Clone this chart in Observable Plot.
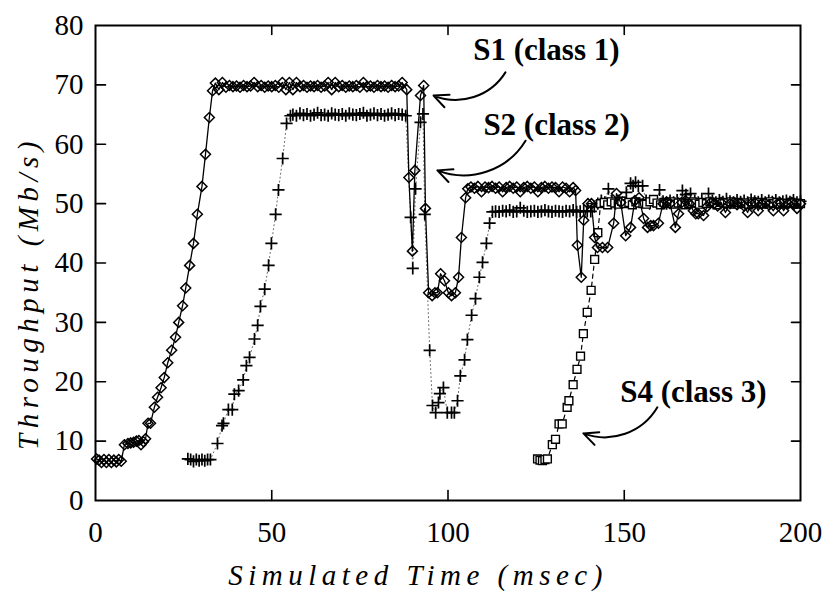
<!DOCTYPE html>
<html><head><meta charset="utf-8">
<script src="https://cdn.jsdelivr.net/npm/d3@7"></script>
<script src="https://cdn.jsdelivr.net/npm/@observablehq/plot@0.6"></script>
<style>body{margin:0;background:#fff} #chart svg{display:block}</style>
</head><body><div id="chart"></div>
<script>
// S1 (class 1) — diamonds, solid line
const s1Time = [
0.3,1.0,1.7,2.4,3.1,3.8,4.5,5.2,5.9,6.6,7.3,
8.2,9.2,10.0,10.8,11.6,12.3,12.9,13.6,14.2,14.9,15.6,
16.7,17.6,18.6,19.5,20.5,21.6,22.7,23.6,24.7,25.6,26.7,27.8,28.9,30.2,31.2,32.3,33.2,
34,35,36,37,38,39,40,41,42,43,44,45,46,47,48,49,50,51,52,53,54,55,56,57,58,59,60,61,62,63,64,65,66,67,68,69,70,71,72,73,74,75,76,77,78,79,80,81,82,83,84,85,86,87,
88.3,88.9,89.9,90.6,92.2,93.1,93.6,94.5,95.5,96.3,97.0,97.9,99.0,100.1,101.0,102.1,103.0,103.8,105.0,105.6,
106.5,107.5,108.5,109.5,110.5,111.5,112.5,113.5,114.5,115.5,116.5,117.5,118.5,119.5,120.5,121.5,122.5,123.5,124.5,125.5,126.5,127.5,128.5,129.5,130.5,131.5,132.5,133.5,134.5,135.5,
136.2,136.7,137.8,138.5,139.7,140.7,141.6,142.4,143.8,145.3,147.0,147.8,149.0,150.4,151.8,153.0,154.2,155.5,156.6,157.5,
158.3,159.7,161.0,162.0,163.0,164.5,165.4,166.3,167.4,168.5,169.6,170.3,171.0,172.5,173.5,174.5,175.5,176.5,177.5,178.7,
180.0,181.0,182.0,183.0,184.0,185.0,186.0,187.0,188.0,189.0,190.0,191.0,192.3,193.5,194.3,195.2,196.5,197.5,198.2,199.0,200.0];
const s1Thru = [
7.0,6.8,6.4,6.9,6.4,6.9,6.4,6.8,6.5,6.9,6.6,
9.4,9.6,9.7,9.8,10.0,10.1,9.4,9.9,10.4,13.0,13.0,
15.7,17.4,19.0,20.7,23.2,25.3,27.5,30.0,32.8,35.8,39.6,43.3,48.2,52.9,58.3,64.5,69.0,
70.3,69.2,70.4,69.6,69.9,69.7,69.8,69.6,69.9,69.7,
69.8,70.4,69.7,69.9,69.6,69.8,69.7,69.9,69.6,70.4,
69.2,70.4,69.2,70.4,69.7,69.9,69.6,69.8,69.7,69.9,
69.6,69.8,70.4,69.2,70.4,69.7,69.9,69.6,69.8,69.7,
69.9,69.6,70.4,69.7,69.8,69.6,69.9,69.7,69.8,69.6,
69.9,69.7,69.8,70.4,
69.2,54.4,42.0,55.6,68.2,69.9,49.2,35.0,34.5,35.0,35.0,38.2,37.0,35.0,34.5,35.0,37.6,44.3,51.0,52.5,
52.8,52.6,52.9,52.0,52.8,52.7,52.9,52.6,52.8,52.0,
52.7,52.9,52.6,52.8,52.0,52.7,52.9,52.6,52.8,52.0,
52.7,52.9,52.6,52.8,52.7,52.0,52.8,52.6,52.0,52.7,
52.2,43.0,37.6,47.2,50.0,50.0,44.3,42.6,42.6,42.6,46.7,51.7,50.2,44.6,46.0,50.5,51.0,47.5,46.0,46.3,
46.3,46.7,50.0,50.3,50.0,46.0,48.3,50.2,50.5,50.0,48.8,48.3,48.3,48.0,49.5,50.2,50.0,49.6,50.2,48.5,
50.0,50.2,49.8,50.1,49.6,48.5,50.0,50.2,48.8,50.0,50.1,49.8,48.8,50.0,50.1,48.8,50.0,50.2,49.9,49.2,50.0];

// S2 (class 2) — plus signs, dotted line
const s2Time = [
26.2,27.0,27.8,28.6,29.4,30.2,31.0,31.8,32.6,
34.6,35.9,36.3,37.7,38.8,39.4,40.6,41.9,42.8,43.7,45.1,46.0,46.8,48.0,49.1,49.9,51.1,51.9,53.1,54.2,55.3,
56,57,58,59,60,61,62,63,64,65,66,67,68,69,70,71,72,73,74,75,76,77,78,79,80,81,82,83,84,85,86,87,88,
89.4,90.0,90.8,92.2,92.9,93.4,94.8,95.6,96.5,97.3,97.7,98.7,99.8,101.0,101.8,102.7,103.5,104.7,105.5,106.7,107.8,108.9,109.8,110.9,111.8,112.6,
113.5,114.5,115.5,116.5,117.5,118.5,119.5,120.5,121.5,122.5,123.5,124.5,125.5,126.5,127.5,128.5,129.5,130.5,131.5,132.5,133.5,134.5,135.5,136.5,137.5,138.5,139.5,
140.5,141.5,142.5,143.5,144.5,145.5,146.5,147.5,148.5,149.5,150.6,151.8,152.5,153.2,154.0,155.2,156.2,157.2,158.2,159.2,
160.0,161.0,162.0,163.0,164.0,165.0,166.5,167.5,168.8,170.0,171.0,172.0,173.9,175.0,176.0,177.0,178.0,179.0,180.0,181.0,
182.0,183.0,184.0,185.0,186.0,187.0,188.0,189.0,190.0,191.0,192.0,193.0,194.0,195.0,196.0,197.0,198.0,199.0,200.0];
const s2Thru = [
7.0,6.9,6.6,6.9,6.7,6.9,6.7,6.9,6.9,
9.6,12.6,13.0,15.3,15.3,17.9,18.5,20.3,22.7,24.1,27.2,29.5,32.7,35.6,39.6,43.3,48.2,52.3,57.6,63.5,64.8,
65.0,64.8,65.2,64.9,65.1,64.8,65.0,65.3,64.9,65.0,64.8,65.2,65.0,64.9,65.1,64.8,65.2,65.0,64.9,65.1,65.3,64.8,65.0,65.2,64.9,65.1,64.8,65.0,65.2,64.9,65.1,65.0,64.8,
47.7,39.1,52.5,63.7,65.1,48.2,25.3,16.0,14.8,16.5,18.0,19.0,14.8,14.8,14.8,16.8,21.0,23.7,27.1,31.2,34.0,37.6,40.1,43.3,46.7,48.6,
48.7,48.6,48.8,48.7,48.9,48.6,48.7,49.3,48.8,48.6,48.7,48.8,48.6,48.7,48.9,48.7,48.6,48.8,48.7,48.6,48.8,48.7,48.9,48.6,48.7,48.8,48.7,
48.7,49.5,50.0,50.5,50.2,52.5,50.5,50.0,50.5,50.2,51.9,53.4,53.0,53.6,53.0,53.0,50.5,50.0,50.4,50.2,
52.3,50.4,50.0,50.5,50.2,50.6,52.2,51.5,51.7,50.5,50.2,50.8,51.7,50.5,50.2,50.6,50.3,50.8,50.4,50.2,
50.6,50.3,50.5,50.2,50.7,50.4,50.3,50.6,50.2,50.5,50.3,50.6,50.2,50.4,50.5,50.3,50.6,50.2,50.4];

// S4 (class 3) — squares, dashed line
const s4Time = [
125.4,126.1,126.8,127.5,128.2,129.6,130.5,131.5,132.4,133.8,134.3,135.5,136.6,137.6,138.4,139.5,140.6,141.6,142.5,143.3,
144.3,145.3,146.3,147.3,148.3,149.3,150.3,151.3,152.3,153.3,154.3,155.3,156.3,157.3,158.3,159.3,160.3,161.3,162.3,163.3,
164.3,165.3,166.3,167.3,168.3,169.3,170.3,171.3,172.3,173.3,174.3,175.3,176.3,177.3,178.3,179.3,180.3,181.3,182.3,183.3,
184.3,185.3,186.3,187.3,188.3,189.3,190.3,191.3,192.3,193.3,194.3,195.3,196.3,197.3,198.3,199.3,200.0];
const s4Thru = [
7.0,6.8,6.7,6.9,7.0,9.4,10.3,12.9,12.9,15.7,16.8,19.5,22.1,24.3,28.1,31.7,35.4,40.6,45.1,50.0,
50.2,49.8,50.3,50.1,49.9,50.4,50.0,50.2,49.8,50.3,50.1,50.0,49.9,50.3,50.7,50.1,49.8,50.2,50.0,50.3,
49.9,50.1,50.2,49.8,50.0,50.3,50.1,49.9,50.2,50.0,50.3,50.1,49.8,50.2,50.0,50.1,50.3,49.9,50.2,50.0,
50.1,49.8,50.3,50.0,50.2,49.9,50.1,50.3,50.0,50.2,49.9,50.1,50.0,50.2,50.1,49.9,50.0];

// axes
const xTicks = [0, 50, 100, 150, 200];
const yTicks = [0, 10, 20, 30, 40, 50, 60, 70, 80];
const xInnerTicks = [50, 100, 150];
const yInnerTicks = [10, 20, 30, 40, 50, 60, 70];
const xTitle = "Simulated Time (msec)";
const yTitle = "Throughput (Mb/s)";

// annotations
const labelText = ["S1 (class 1)", "S2 (class 2)", "S4 (class 3)"];
const labelX = [127.9, 130.8, 169.6];
const labelY = [75.8, 63.3, 18.2];
const arrowFromX = [116.3, 122.0, 159.4];
const arrowFromY = [72.1, 60.6, 15.7];
const arrowToX = [95.9, 97.0, 138.4];
const arrowToY = [68.2, 55.6, 11.3];

function rows(t, v, name) {
  if (t.length !== v.length) throw new Error(name + " length mismatch " + t.length + " vs " + v.length);
  return t.map((x, i) => ({t: x, v: v[i]}));
}
const s1 = rows(s1Time, s1Thru, "S1");
const s2 = rows(s2Time, s2Thru, "S2");
const s4 = rows(s4Time, s4Thru, "S4");
const labels = labelText.map((s, i) => ({s, x: labelX[i], y: labelY[i]}));
const arrows = labelText.map((s, i) => ({x1: arrowFromX[i], y1: arrowFromY[i], x2: arrowToX[i], y2: arrowToY[i]}));

const serif = "'Liberation Serif', 'Times New Roman', Times, serif";
const tickShape = {draw(ctx, l) { ctx.moveTo(0, 0); ctx.lineTo(0, -l); }};

const chart = Plot.plot({
  width: 826, height: 594,
  marginLeft: 95, marginRight: 26, marginTop: 25, marginBottom: 94,
  style: {fontFamily: serif, fontSize: "28px", color: "#000", background: "#fff"},
  x: {domain: [0, 200]},
  y: {domain: [0, 80]},
  marks: [
    Plot.axisX(xTicks, {tickSize: 0, tickPadding: 21, fontSize: 29, label: null}),
    Plot.axisY(yTicks, {tickSize: 0, tickPadding: 12, fontSize: 29, label: null}),
    Plot.vector(xInnerTicks, {x: d => d, frameAnchor: "bottom", length: 10, rotate: 0, anchor: "start", shape: tickShape, stroke: "#000", strokeWidth: 1.6}),
    Plot.vector(xInnerTicks, {x: d => d, frameAnchor: "top", length: 9, rotate: 180, anchor: "start", shape: tickShape, stroke: "#000", strokeWidth: 1.6}),
    Plot.vector(yInnerTicks, {y: d => d, frameAnchor: "left", length: 10, rotate: 90, anchor: "start", shape: tickShape, stroke: "#000", strokeWidth: 1.6}),
    Plot.vector(yInnerTicks, {y: d => d, frameAnchor: "right", length: 9, rotate: -90, anchor: "start", shape: tickShape, stroke: "#000", strokeWidth: 1.6}),
    Plot.line(s2, {x: "t", y: "v", stroke: "#666", strokeWidth: 1, strokeDasharray: "1,3"}),
    Plot.dot(s2, {x: "t", y: "v", symbol: "plus", r: 4, stroke: "#000", strokeWidth: 1.7}),
    Plot.line(s4, {x: "t", y: "v", stroke: "#000", strokeWidth: 1.2, strokeDasharray: "4,4"}),
    Plot.dot(s4, {x: "t", y: "v", symbol: "square2", r: 5, stroke: "#000", strokeWidth: 1.4, fill: "#fff"}),
    Plot.line(s1, {x: "t", y: "v", stroke: "#000", strokeWidth: 1.3}),
    Plot.dot(s1, {x: "t", y: "v", symbol: "diamond2", r: 4.5, stroke: "#000", strokeWidth: 1.5}),
    Plot.frame({stroke: "#000", strokeWidth: 2}),
    Plot.text(labels, {x: "x", y: "y", text: "s", fontWeight: "bold", fontSize: 31, fontFamily: serif, fill: "#000"}),
    Plot.arrow(arrows, {x1: "x1", y1: "y1", x2: "x2", y2: "y2", bend: 40, stroke: "#000", strokeWidth: 2, headLength: 12, headAngle: 50}),
    Plot.text([xTitle], {text: d => d, frameAnchor: "bottom", textAnchor: "middle", lineAnchor: "middle", dy: 75, dx: -30, fontStyle: "italic", fontSize: 29, fontFamily: serif, fill: "#000"}),
    Plot.text([yTitle], {text: d => d, frameAnchor: "left", textAnchor: "middle", lineAnchor: "middle", rotate: -90, dx: -67, dy: 30, fontStyle: "italic", fontSize: 29, fontFamily: serif, fill: "#000"})
  ]
});
chart.querySelectorAll("text").forEach(el => {
  if (el.textContent === xTitle || el.textContent === yTitle) el.setAttribute("letter-spacing", "5.5px");
});
document.getElementById("chart").appendChild(chart);
</script>
</body></html>
